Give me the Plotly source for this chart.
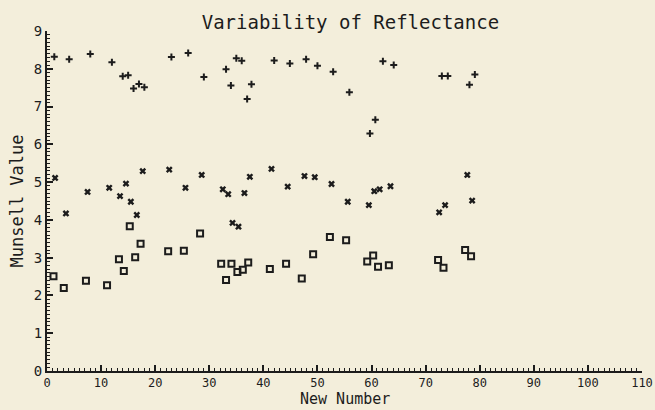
import plotly.graph_objects as go

# Munsell value readings per sample, three measurement groups
plus_x = [1.35, 4.1, 8.0, 12.0, 14.0, 15.0, 16.0, 17.0, 18.0, 23.0, 26.1, 29.0, 33.1, 34.0,
          35.0, 36.0, 37.0, 37.8, 42.0, 44.9, 47.9, 50.0, 52.9, 55.9, 59.7, 60.7, 62.1,
          64.1, 73.0, 74.1, 78.1, 79.1]
plus_y = [8.32, 8.25, 8.39, 8.17, 7.80, 7.83, 7.48, 7.60, 7.51, 8.31, 8.42, 7.78, 7.99, 7.56,
          8.28, 8.21, 7.20, 7.59, 8.22, 8.14, 8.25, 8.08, 7.92, 7.38, 6.29, 6.65, 8.20,
          8.10, 7.81, 7.81, 7.58, 7.85]

cross_x = [1.5, 3.5, 7.5, 11.5, 13.5, 14.6, 15.5, 16.6, 17.7, 22.6, 25.6, 28.6, 32.5, 33.5,
           34.3, 35.4, 36.5, 37.5, 41.5, 44.5, 47.6, 49.5, 52.6, 55.6, 59.5, 60.5, 61.5,
           63.5, 72.5, 73.6, 77.7, 78.6]
cross_y = [5.11, 4.17, 4.74, 4.85, 4.63, 4.96, 4.48, 4.13, 5.29, 5.33, 4.85, 5.19, 4.81, 4.68,
           3.92, 3.82, 4.71, 5.14, 5.35, 4.88, 5.16, 5.13, 4.95, 4.48, 4.39, 4.76, 4.81,
           4.89, 4.20, 4.39, 5.19, 4.51]

square_x = [1.2, 3.1, 7.2, 11.1, 13.3, 14.2, 15.3, 16.3, 17.3, 22.4, 25.3, 28.3, 32.2, 33.1,
            34.1, 35.2, 36.2, 37.2, 41.2, 44.2, 47.1, 49.2, 52.3, 55.3, 59.2, 60.3, 61.2,
            63.2, 72.3, 73.3, 77.3, 78.4]
square_y = [2.51, 2.20, 2.39, 2.27, 2.96, 2.65, 3.83, 3.01, 3.37, 3.17, 3.18, 3.64, 2.84, 2.41,
            2.84, 2.62, 2.68, 2.87, 2.70, 2.84, 2.45, 3.09, 3.55, 3.46, 2.90, 3.06, 2.76,
            2.80, 2.94, 2.73, 3.20, 3.04]

x_ticks = list(range(0, 111, 10))
y_ticks = list(range(0, 10))

INK = "#1c1c1c"
PAPER = "#f3eedb"
FONT = "DejaVu Sans Mono"

fig = go.Figure()
fig.add_trace(go.Scatter(x=plus_x, y=plus_y, mode="markers",
                         marker=dict(symbol="cross-thin", size=5, color=INK,
                                     line=dict(width=2, color=INK))))
fig.add_trace(go.Scatter(x=cross_x, y=cross_y, mode="markers",
                         marker=dict(symbol="x", size=6, color=INK, line=dict(width=0))))
fig.add_trace(go.Scatter(x=square_x, y=square_y, mode="markers",
                         marker=dict(symbol="square-open", size=6, color=INK,
                                     line=dict(width=2, color=INK))))

axis_common = dict(showgrid=False, zeroline=False, showline=True, linecolor=INK, linewidth=2,
                   ticks="inside", tickcolor=INK, tickwidth=1.5)

fig.update_xaxes(range=[0, 110], tickvals=x_ticks, ticklen=6,
                 automargin=False,
                 tickfont=dict(family=FONT, size=12, color=INK),
                 minor=dict(dtick=1, ticks="inside", ticklen=3, tickcolor=INK, tickwidth=1),
                 **axis_common)
fig.update_yaxes(range=[0, 9], tickvals=y_ticks, ticklen=6,
                 tickfont=dict(family=FONT, size=14, color=INK),
                 minor=dict(dtick=0.1, ticks="inside", ticklen=3, tickcolor=INK, tickwidth=1),
                 title=dict(text="Munsell Value", font=dict(family=FONT, size=17, color=INK), standoff=6),
                 **axis_common)

# x-axis title anchored to the bottom edge, below the tick labels
fig.add_annotation(text="New Number", xref="paper", yref="paper", x=0.5, y=-0.114,
                   xanchor="center", yanchor="bottom", showarrow=False,
                   font=dict(family=FONT, size=15, color=INK))

fig.update_layout(
    width=655, height=410,
    margin=dict(l=47, r=13, t=31, b=39),
    paper_bgcolor=PAPER, plot_bgcolor=PAPER,
    showlegend=False,
    title=dict(text="Variability of Reflectance", x=0.535, xanchor="center", y=0.945, yanchor="middle",
               font=dict(family=FONT, size=19, color=INK)),
)

fig.write_html("out.html")
